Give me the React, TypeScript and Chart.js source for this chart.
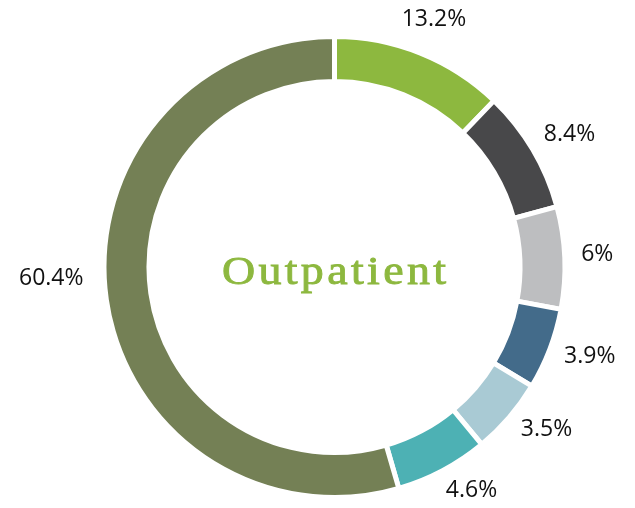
import React, { useEffect, useRef } from "react";
import { Chart, registerables } from "chart.js";

Chart.register(...registerables);

const categories = ["A", "B", "C", "D", "E", "F", "G"];
const sliceValues = [43.8, 31, 25.8, 20.5, 19.2, 23.5, 196.2];
const valueLabels = ["13.2%", "8.4%", "6%", "3.9%", "3.5%", "4.6%", "60.4%"];
const colors = ["#8DB83F", "#48484A", "#BDBEC0", "#436B8A", "#A9CAD4", "#4DB1B4", "#748055"];
const centerTitle = "Outpatient";

// label placement tweaks (styling, not data): radial gap beyond the ring and angle shift in degrees
const labelGap = [36, 39.5, 32.6, 40, 36.7, 31.4, 53];
const labelTurn = [0, 1.2, -0.5, -1.5, -3.2, -3.6, 5.8];

const labelPlugin = {
  id: "outLabels",
  afterDatasetsDraw(chart: any) {
    const ctx = chart.ctx;
    const meta = chart.getDatasetMeta(0);
    ctx.save();
    ctx.font = '23px "Open Sans"';
    ctx.fillStyle = "#111";
    ctx.textAlign = "center";
    ctx.textBaseline = "middle";
    meta.data.forEach((arc: any, i: number) => {
      const p = arc.getProps(["x", "y", "startAngle", "endAngle", "outerRadius"], true);
      const a = (p.startAngle + p.endAngle) / 2 + (labelTurn[i] * Math.PI) / 180;
      const r = p.outerRadius + labelGap[i];
      ctx.fillText(valueLabels[i], p.x + Math.cos(a) * r, p.y + Math.sin(a) * r);
    });
    const first = meta.data[0];
    ctx.font = '41px "Liberation Serif"';
    ctx.fillStyle = "#8DB83F";
    ctx.strokeStyle = "#8DB83F";
    ctx.lineWidth = 0.9;
    ctx.textBaseline = "alphabetic";
    (ctx as any).letterSpacing = "3px";
    ctx.translate(first.x, first.y + 17);
    ctx.scale(1.12, 1);
    ctx.fillText(centerTitle, 1, 0);
    ctx.strokeText(centerTitle, 1, 0);
    ctx.restore();
  },
};

export default function App() {
  const ref = useRef<HTMLCanvasElement>(null);
  useEffect(() => {
    if (!ref.current) return;
    const chart = new Chart(ref.current, {
      type: "doughnut",
      data: {
        labels: categories,
        datasets: [
          {
            data: sliceValues,
            backgroundColor: colors,
            borderColor: "#ffffff",
            borderWidth: 5,
          },
        ],
      },
      options: {
        responsive: false,
        animation: false,
        cutout: "80.5%",
        layout: { padding: { top: 34, bottom: 8, left: 34, right: 0 } },
        plugins: { legend: { display: false }, tooltip: { enabled: false } },
      },
      plugins: [labelPlugin],
    });
    return () => chart.destroy();
  }, []);
  return (
    <div style={{ position: "absolute", left: 0, top: 0, width: 635, height: 508, background: "#fff" }}>
      <canvas ref={ref} width={635} height={508} />
    </div>
  );
}
